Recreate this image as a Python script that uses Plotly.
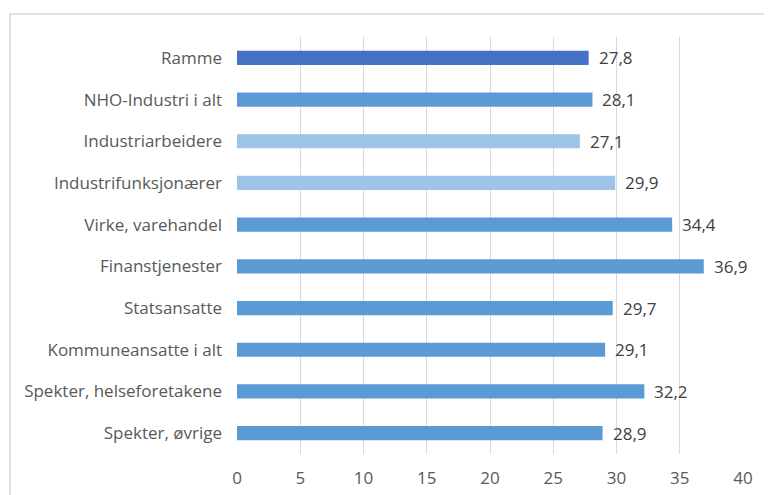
import plotly.graph_objects as go

categories = ["Ramme", "NHO-Industri i alt", "Industriarbeidere", "Industrifunksjonærer",
              "Virke, varehandel", "Finanstjenester", "Statsansatte", "Kommuneansatte i alt",
              "Spekter, helseforetakene", "Spekter, øvrige"]
values = [27.8, 28.1, 27.1, 29.9, 34.4, 36.9, 29.7, 29.1, 32.2, 28.9]
colors = ["#4472C4", "#5B9BD5", "#9DC3E6", "#9DC3E6", "#5B9BD5",
          "#5B9BD5", "#5B9BD5", "#5B9BD5", "#5B9BD5", "#5B9BD5"]
labels = [f"{v:.1f}".replace(".", ",") for v in values]
tick_vals = [0, 5, 10, 15, 20, 25, 30, 35, 40]

fig = go.Figure(go.Bar(
    y=categories, x=values, orientation="h",
    marker=dict(color=colors, line=dict(width=0)),
    hoverinfo="x+y",
))

for c, v, t in zip(categories, values, labels):
    fig.add_annotation(x=v, y=c, text=t, showarrow=False, xanchor="left",
                       xshift=8, font=dict(size=17, color="#404040", family="Open Sans"))

W, H = 772, 495
ml, mr, mt, mb = 229, 37, 29, 49
pw, ph = W - ml - mr, H - mt - mb

fig.update_layout(
    width=W, height=H,
    margin=dict(l=ml, r=mr, t=mt, b=mb, pad=0, autoexpand=False),
    paper_bgcolor="white", plot_bgcolor="white",
    bargap=0.66, showlegend=False,
    font=dict(family="Open Sans", size=17, color="#595959"),
    xaxis=dict(range=[0, 40], tickvals=tick_vals, showgrid=True, gridcolor="#D9D9D9",
               gridwidth=1, zeroline=False, showline=False, ticks="", automargin=False,
               ticklabelstandoff=12,
               tickfont=dict(size=17, color="#595959"), fixedrange=True),
    yaxis=dict(autorange="reversed", showgrid=False, zeroline=False, showline=False,
               ticks="", ticklabelstandoff=14, automargin=False,
               tickfont=dict(size=17, color="#595959"), fixedrange=True),
    shapes=[dict(type="rect", xref="paper", yref="paper",
                 x0=(2 - ml) / pw, x1=(W + 5 - ml) / pw,
                 y0=(H - mb - (H + 5)) / ph, y1=1 + (mt - 6) / ph,
                 line=dict(color="#D9D9D9", width=1.5), fillcolor="rgba(0,0,0,0)", layer="below")],
)

fig.write_html("out.html")
